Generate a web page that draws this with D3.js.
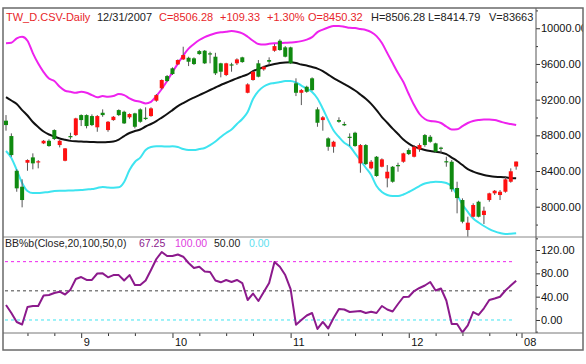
<!DOCTYPE html>
<html>
<head>
<meta charset="utf-8">
<script src="https://cdnjs.cloudflare.com/ajax/libs/d3/7.8.5/d3.min.js"></script>
<style>
  body { margin: 0; background: #fff; }
  svg { display: block; font-family: "Liberation Sans", Arial, sans-serif; }
</style>
</head>
<body>
<script>
// TW_D daily bars, 2007-08-14 .. 2007-12-31 (96 trading days)
const opens = [8964, 8792, 8403, 8224, 8493, 8553, 8497, 8710, 8739, 8859,
  8691, 8515, 8792, 8803, 9027, 9027, 9016, 8890, 9053, 8859,
  8971, 9083, 9064, 9002, 9046, 9091, 8997, 9016, 9188, 9327,
  9464, 9551, 9595, 9651, 9669, 9663, 9744, 9748, 9719, 9681,
  9607, 9476, 9595, 9607, 9674, 9277, 9420, 9607, 9539, 9644,
  9748, 9860, 9786, 9786, 9383, 9277, 9344, 9439, 9091, 8971,
  8766, 8672, 8971, 8927, 8784, 8829, 8486, 8691, 8430, 8560,
  8448, 8318, 8448, 8467, 8504, 8635, 8560, 8643, 8803, 8784,
  8710, 8662, 8510, 8504, 8210, 8075, 7739, 7888, 8056, 7907,
  8075, 8150, 8131, 8168, 8280, 8450.32]
const highs = [9027, 8822, 8419, 8307, 8531, 8598, 8523, 8747, 8755, 8867,
  8747, 8658, 8829, 8997, 9035, 9035, 9035, 9027, 9091, 8960,
  9016, 9091, 9076, 9046, 9053, 9102, 9114, 9114, 9263, 9427,
  9476, 9562, 9651, 9793, 9681, 9674, 9756, 9756, 9737, 9725,
  9613, 9613, 9613, 9663, 9681, 9383, 9524, 9644, 9580, 9674,
  9823, 9876, 9800, 9793, 9439, 9319, 9356, 9450, 9114, 9016,
  8778, 8739, 9002, 8952, 8822, 8840, 8702, 8702, 8523, 8568,
  8542, 8467, 8456, 8493, 8605, 8654, 8691, 8710, 8815, 8803,
  8717, 8672, 8560, 8523, 8280, 8094, 7888, 8038, 8067, 8000,
  8157, 8187, 8187, 8336, 8430, 8506.28]
const lows = [8852, 8560, 8168, 7993, 8403, 8419, 8430, 8702, 8672, 8747,
  8665, 8509, 8755, 8792, 8904, 8878, 8904, 8840, 9008, 8840,
  8963, 9016, 8927, 8986, 8878, 8941, 8971, 9008, 9176, 9315,
  9400, 9476, 9588, 9644, 9576, 9588, 9703, 9599, 9607, 9476,
  9450, 9464, 9513, 9588, 9613, 9271, 9412, 9450, 9524, 9588,
  9737, 9748, 9674, 9599, 9240, 9139, 9277, 9300, 8896, 8852,
  8627, 8605, 8941, 8904, 8680, 8672, 8381, 8467, 8419, 8336,
  8441, 8217, 8269, 8392, 8493, 8579, 8553, 8616, 8672, 8717,
  8605, 8598, 8448, 8168, 7926, 7814, 7664, 7881, 7881, 7806,
  8056, 8131, 8075, 8157, 8269, 8414.79]
const closes = [8915, 8579, 8206, 8075, 8523, 8486, 8509, 8739, 8680, 8759,
  8739, 8654, 8778, 8990, 8971, 8904, 8915, 9016, 9027, 8952,
  9008, 9027, 8934, 9039, 8896, 8952, 8983, 9102, 9251, 9420,
  9408, 9487, 9644, 9700, 9625, 9599, 9711, 9607, 9708, 9495,
  9513, 9607, 9584, 9651, 9621, 9371, 9513, 9457, 9569, 9625,
  9800, 9756, 9681, 9607, 9277, 9307, 9288, 9307, 8941, 9002,
  8672, 8728, 8952, 8912, 8773, 8680, 8691, 8478, 8504, 8344,
  8531, 8392, 8280, 8456, 8598, 8590, 8672, 8691, 8691, 8728,
  8616, 8654, 8500, 8195, 8097, 7832, 7821, 8019, 7888, 7955,
  8150, 8179, 8168, 8307, 8397, 8506.28]

// bollinger bands (20 days)
const bbUpper = [9831, 9837, 9887, 9905, 9860, 9722, 9604, 9509, 9436, 9408,
  9344, 9300, 9288, 9277, 9288, 9277, 9251, 9226, 9240, 9232,
  9240, 9263, 9251, 9214, 9188, 9176, 9158, 9176, 9240, 9319,
  9408, 9509, 9604, 9694, 9772, 9823, 9868, 9901, 9924, 9943,
  9954, 9961, 9968, 9961, 9943, 9905, 9860, 9823, 9817, 9826,
  9831, 9834, 9837, 9840, 9845, 9856, 9873, 9901, 9957, 9985,
  10008, 10025, 10025, 10017, 10005, 10002, 9991, 9980, 9957, 9912,
  9834, 9722, 9610, 9498, 9397, 9263, 9139, 9039, 8983, 8960,
  8955, 8938, 8899, 8865, 8867, 8904, 8938, 8960, 8971, 8977,
  8977, 8971, 8955, 8938, 8927, 8915]
const bbMid = [9229, 9190, 9151, 9083, 9022, 8949, 8893, 8843, 8809, 8787,
  8764, 8750, 8738, 8733, 8731, 8727, 8725, 8723, 8723, 8725,
  8731, 8753, 8792, 8826, 8848, 8865, 8899, 8927, 8960, 8999,
  9039, 9083, 9128, 9162, 9195, 9223, 9251, 9279, 9308, 9336,
  9364, 9389, 9414, 9439, 9461, 9483, 9520, 9543, 9565, 9585,
  9599, 9610, 9616, 9618, 9610, 9593, 9582, 9565, 9548, 9520,
  9481, 9442, 9408, 9375, 9341, 9302, 9257, 9210, 9153, 9083,
  9005, 8941, 8875, 8815, 8753, 8708, 8674, 8652, 8635, 8624,
  8616, 8607, 8590, 8551, 8512, 8467, 8422, 8394, 8372, 8355,
  8344, 8336, 8333, 8329, 8322, 8318]
const bbLower = [8624, 8546, 8411, 8266, 8176, 8153, 8153, 8159, 8165, 8176,
  8179, 8179, 8182, 8184, 8187, 8193, 8198, 8210, 8221, 8215,
  8213, 8217, 8277, 8411, 8501, 8551, 8635, 8669, 8677, 8677,
  8674, 8677, 8669, 8646, 8635, 8635, 8646, 8658, 8691, 8731,
  8781, 8826, 8865, 8927, 8983, 9061, 9207, 9296, 9347, 9375,
  9386, 9397, 9408, 9408, 9392, 9358, 9324, 9285, 9212, 9098,
  8971, 8854, 8781, 8717, 8677, 8598, 8518, 8437, 8355, 8232,
  8165, 8131, 8120, 8120, 8137, 8165, 8198, 8232, 8260, 8273,
  8280, 8277, 8266, 8226, 8131, 8025, 7941, 7868, 7823, 7784,
  7750, 7724, 7705, 7694, 7697, 7702]

// BB%b
const pctB = [25.7, 12, -3.4, -7.7, 22.3, 24, 24, 42, 42.9, 46.3,
  48.5, 43.7, 52, 70.3, 73.7, 68.6, 68.6, 79.7, 80, 73.2,
  77, 77, 67.7, 77, 60, 60, 67.7, 85.7, 104.6, 116.6,
  109.7, 109.7, 112.3, 108.5, 97.7, 89, 91.4, 83, 82.3, 67.7,
  64.6, 68.6, 65.1, 68.6, 63.4, 34.3, 45.4, 32.6, 48, 63.4,
  99.4, 91.4, 77, 53, -8, 0, 7.7, 12, -15.4, -3.4,
  -14.6, 3.4, 18.9, 18, 13.7, 14.6, 15.4, 12, 14.2, 12,
  24, 18, 14.6, 27.4, 39.4, 39.9, 49.7, 54.9, 59.1, 65.1,
  50.6, 54, 33.4, -6.9, -6.9, -21.4, -9.4, 13.7, 8.6, 20,
  34.3, 36.9, 39.9, 50.6, 59.1, 67.25]

// x axis: bar index of first trading day of each month, and of mondays
const monthTicks = [14, 31, 53, 75, 96]
const monthLabels = ['9', '10', '11', '12', '08']
const weekTicks = [4, 9, 19, 24, 36, 41, 46, 60, 65, 70, 80, 85, 90, 95]

const priceTicks = [8000, 8400, 8800, 9200, 9600, 10000]
const priceMinor = [7800, 8200, 8600, 9000, 9400, 9800, 10200]
const pctTicks = [0, 40, 80, 120]
const pctMinor = [-20, 20, 60, 100, 140]
const pctLevels = [100, 50, 0]

const header = ['TW_D.CSV-Daily', '12/31/2007', 'C=8506.28', '+109.33', '+1.30%',
  'O=8450.32', 'H=8506.28', 'L=8414.79', 'V=83663']
const subHeader = ['BB%b(Close,20,100,50,0)', '67.25', '100.00', '50.00', '0.00']

const width = 586
const height = 364

// panel edges
const edgeL = 3, edgeR = 583, axisX = 536
const edgeT = 8, split = 237, subBottom = 333, edgeB = 350

const RED = '#ff1010', GREEN = '#108a10'
const MAGENTA = '#ee22ee', CYAN = '#3ee4f0', PURPLE = '#8c1a8c'

const svg = d3.select('body').append('svg')
  .attr('width', width)
  .attr('height', height)

svg.append('rect').attr('width', width).attr('height', height).attr('fill', '#fff')

const defs = svg.append('defs')
defs.append('clipPath').attr('id', 'clipMain')
  .append('rect').attr('x', edgeL + 1).attr('y', edgeT + 1)
  .attr('width', axisX - edgeL - 1).attr('height', split - edgeT - 1)
defs.append('clipPath').attr('id', 'clipSub')
  .append('rect').attr('x', edgeL + 1).attr('y', split + 1)
  .attr('width', axisX - edgeL - 1).attr('height', subBottom - split - 1)
defs.append('clipPath').attr('id', 'clipAxis')
  .append('rect').attr('x', axisX).attr('y', edgeT)
  .attr('width', edgeR - axisX).attr('height', subBottom - edgeT)

const xScale = d3.scaleLinear()
  .domain([0, 96])
  .range([6, 6 + 96 * 5.37])

const yPrice = d3.scaleLinear()
  .domain([7664, 10227])
  .range([236.7, edgeT])

const yPct = d3.scaleLinear()
  .domain([-22.3, 142.3])
  .range([subBottom, split])

const bars = opens.map((o, i) => ({i, o, h: highs[i], l: lows[i], c: closes[i]}))

// ---- main panel
const main = svg.append('g').attr('clip-path', 'url(#clipMain)')

const line = d3.line()
  .x((d, i) => xScale(i))
  .y(d => yPrice(d))
  .curve(d3.curveMonotoneX)

main.append('path').datum(bbUpper)
  .attr('d', line).attr('fill', 'none')
  .attr('stroke', MAGENTA).attr('stroke-width', 2)
main.append('path').datum(bbLower)
  .attr('d', line).attr('fill', 'none')
  .attr('stroke', CYAN).attr('stroke-width', 2)
main.append('path').datum(bbMid)
  .attr('d', line).attr('fill', 'none')
  .attr('stroke', '#111').attr('stroke-width', 2)

main.append('g').selectAll('line')
  .data(bars)
  .enter()
  .append('line')
  .attr('x1', d => xScale(d.i))
  .attr('x2', d => xScale(d.i))
  .attr('y1', d => yPrice(d.h))
  .attr('y2', d => yPrice(d.l))
  .attr('stroke', '#555')
  .attr('stroke-width', 1)

main.append('g').selectAll('rect')
  .data(bars)
  .enter()
  .append('rect')
  .attr('x', d => xScale(d.i) - 2)
  .attr('width', 4)
  .attr('y', d => yPrice(Math.max(d.o, d.c)))
  .attr('height', d => Math.max(1.2, Math.abs(yPrice(d.o) - yPrice(d.c))))
  .attr('fill', d => d.c >= d.o ? RED : GREEN)

// header line
const hx = [6, 97, 159, 220, 267, 308, 371, 428, 489]
const hc = ['#e8262a', '#222', '#e8262a', '#e8262a', '#e8262a', '#e8262a', '#222', '#222', '#222']
svg.append('g').selectAll('text')
  .data(header)
  .enter()
  .append('text')
  .attr('x', (d, i) => hx[i])
  .attr('y', 21)
  .attr('font-size', 11)
  .attr('fill', (d, i) => hc[i])
  .text(d => d)

// ---- BB%b panel
const sub = svg.append('g').attr('clip-path', 'url(#clipSub)')
const levelColor = [MAGENTA, '#444', CYAN]

sub.selectAll('line.level')
  .data(pctLevels)
  .enter()
  .append('line')
  .attr('class', 'level')
  .attr('x1', edgeL + 2)
  .attr('x2', xScale(95) - 2)
  .attr('y1', d => yPct(d))
  .attr('y2', d => yPct(d))
  .attr('stroke', (d, i) => levelColor[i])
  .attr('stroke-width', 1)
  .attr('stroke-dasharray', '3,3')

sub.append('path').datum(pctB)
  .attr('d', d3.line().x((d, i) => xScale(i)).y(d => yPct(d)))
  .attr('fill', 'none')
  .attr('stroke', PURPLE)
  .attr('stroke-width', 2)
  .attr('stroke-linejoin', 'round')

const sx = [5, 139, 175, 214, 249]
const sc = ['#222', PURPLE, '#e040e0', '#222', '#5ee0f0']
svg.append('g').selectAll('text')
  .data(subHeader)
  .enter()
  .append('text')
  .attr('x', (d, i) => sx[i])
  .attr('y', 247)
  .attr('font-size', 10.5)
  .attr('fill', (d, i) => sc[i])
  .text(d => d)

// ---- axes
const axes = svg.append('g').attr('clip-path', 'url(#clipAxis)')

function styleAxis(g) {
  g.select('.domain').remove()
  g.selectAll('line').attr('stroke', '#333')
  g.selectAll('text').attr('fill', '#111').attr('font-size', 11)
    .attr('font-family', '"Liberation Sans", Arial, sans-serif')
}

axes.append('g')
  .attr('transform', `translate(${axisX},0)`)
  .call(d3.axisRight(yPrice).tickValues(priceTicks).tickSize(4).tickPadding(1)
    .tickFormat(d3.format('.2f')))
  .call(styleAxis)
axes.append('g')
  .attr('transform', `translate(${axisX},0)`)
  .call(d3.axisRight(yPrice).tickValues(priceMinor).tickSize(2).tickFormat(''))
  .call(styleAxis)
axes.append('g')
  .attr('transform', `translate(${axisX},0)`)
  .call(d3.axisRight(yPct).tickValues(pctTicks).tickSize(4).tickPadding(1)
    .tickFormat(d3.format('.2f')))
  .call(styleAxis)
axes.append('g')
  .attr('transform', `translate(${axisX},0)`)
  .call(d3.axisRight(yPct).tickValues(pctMinor).tickSize(2).tickFormat(''))
  .call(styleAxis)

svg.append('g')
  .attr('transform', `translate(0,${subBottom})`)
  .call(d3.axisBottom(xScale).tickValues(weekTicks).tickSize(3).tickFormat(''))
  .call(styleAxis)
const xAxis = svg.append('g')
  .attr('transform', `translate(0,${subBottom})`)
  .call(d3.axisBottom(xScale).tickValues(monthTicks).tickSize(5)
    .tickFormat((d, i) => monthLabels[i]))
  .call(styleAxis)
xAxis.selectAll('text')
  .attr('text-anchor', 'start')
  .attr('x', 2)
  .attr('y', 5)
  .attr('dy', '0.71em')

// ---- frame and separators
svg.append('line').attr('x1', edgeL).attr('x2', edgeR).attr('y1', split).attr('y2', split)
  .attr('stroke', '#888')
svg.append('line').attr('x1', edgeL).attr('x2', edgeR).attr('y1', subBottom).attr('y2', subBottom)
  .attr('stroke', '#777')
svg.append('line').attr('x1', axisX).attr('x2', axisX).attr('y1', edgeT).attr('y2', subBottom)
  .attr('stroke', '#555')
svg.append('rect')
  .attr('x', edgeL).attr('y', edgeT)
  .attr('width', edgeR - edgeL).attr('height', edgeB - edgeT)
  .attr('fill', 'none')
  .attr('stroke', '#6a6a6a')
  .attr('stroke-width', 1.5)
</script>
</body>
</html>
